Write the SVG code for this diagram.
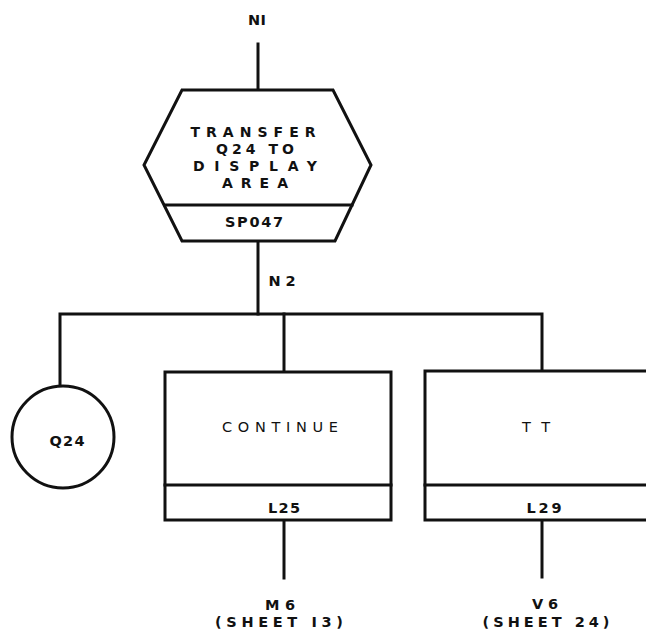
<svg xmlns="http://www.w3.org/2000/svg" width="646" height="635" viewBox="0 0 646 635">
<style>
.ln{fill:none;stroke:#111;stroke-width:3;stroke-linecap:square}
.sh{fill:#fff;stroke:#111;stroke-width:3;stroke-linejoin:miter}
.t{font-family:"DejaVu Sans","Liberation Sans",Arial,sans-serif;font-weight:600;font-size:14px;fill:#111;text-anchor:middle;dominant-baseline:central}
.s{font-size:14.5px}
.n{font-weight:normal}
</style>
<rect width="646" height="635" fill="#fff"/>
<g id="connectors">
<line class="ln" x1="258" y1="44" x2="258" y2="90"/>
<line class="ln" x1="258" y1="241" x2="258" y2="314"/>
<polyline class="ln" points="60,386 60,314 542,314 542,371"/>
<line class="ln" x1="284" y1="314" x2="284" y2="372"/>
<line class="ln" x1="284" y1="520" x2="284" y2="578"/>
<line class="ln" x1="542" y1="520" x2="542" y2="577"/>
</g>
<g id="N1"><text class="t s" x="257" y="20" textLength="18" lengthAdjust="spacing">NI</text></g>
<g id="SP047">
<polygon class="sh" points="182,90 333,90 371,165 335,241 182,241 144,165"/>
<line class="ln" x1="165" y1="205" x2="352" y2="205"/>
<text class="t" x="253" y="132" textLength="125" lengthAdjust="spacing">TRANSFER</text>
<text class="t" x="255" y="148.5" textLength="78" lengthAdjust="spacing">Q24 TO</text>
<text class="t" x="255" y="165.5" textLength="124" lengthAdjust="spacing">DISPLAY</text>
<text class="t" x="255" y="183" textLength="66" lengthAdjust="spacing">AREA</text>
<text class="t s" x="254" y="222" textLength="58" lengthAdjust="spacing">SP047</text>
</g>
<g id="N2"><text class="t s" x="282" y="281" textLength="27" lengthAdjust="spacing">N2</text></g>
<g id="Q24">
<circle class="sh" cx="63" cy="437" r="51"/>
<text class="t s" x="67" y="441" textLength="35" lengthAdjust="spacing">Q24</text>
</g>
<g id="L25">
<rect class="sh" x="165" y="372" width="226" height="148"/>
<line class="ln" x1="165" y1="485" x2="391" y2="485"/>
<text class="t s n" x="280" y="427" textLength="116" lengthAdjust="spacing">CONTINUE</text>
<text class="t s" x="284" y="508" textLength="32" lengthAdjust="spacing">L25</text>
</g>
<g id="L29">
<rect class="sh" x="425" y="371" width="240" height="149"/>
<line class="ln" x1="425" y1="485" x2="646" y2="485"/>
<text class="t s n" x="536" y="427" textLength="28" lengthAdjust="spacing">TT</text>
<text class="t s" x="544" y="508" textLength="35" lengthAdjust="spacing">L29</text>
</g>
<g id="M6">
<text class="t s" x="280" y="605" textLength="30" lengthAdjust="spacing">M6</text>
<text class="t s" x="279" y="622" textLength="128" lengthAdjust="spacing">(SHEET I3)</text>
</g>
<g id="V6">
<text class="t s" x="545" y="604" textLength="26" lengthAdjust="spacing">V6</text>
<text class="t s" x="546" y="622" textLength="127" lengthAdjust="spacing">(SHEET 24)</text>
</g>
</svg>
